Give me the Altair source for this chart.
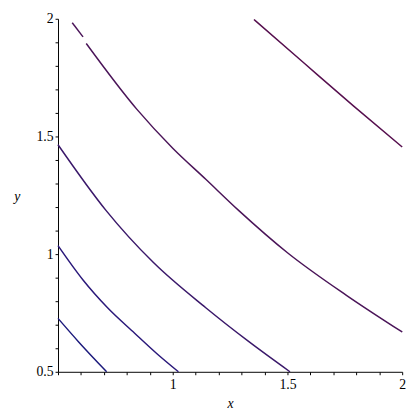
import altair as alt
import pandas as pd

c1_x = [0.500, 0.590, 0.712]
c1_y = [0.727, 0.627, 0.500]
c2_x = [0.500, 0.609, 0.716, 0.834, 0.930, 1.025]
c2_y = [1.036, 0.890, 0.772, 0.664, 0.578, 0.500]
c3_x = [0.500, 0.709, 0.916, 1.144, 1.329, 1.511]
c3_y = [1.465, 1.186, 0.964, 0.772, 0.630, 0.500]
c4a_x = [0.562, 0.609]
c4a_y = [1.983, 1.923]
c4b_x = [0.623, 0.844, 1.000, 1.144, 1.287, 1.500, 1.757, 2.000]
c4b_y = [1.895, 1.615, 1.450, 1.318, 1.186, 1.006, 0.825, 0.669]
c5_x = [1.354, 1.572, 1.786, 2.000]
c5_y = [1.997, 1.812, 1.631, 1.455]

segments = [
    ("c1", c1_x, c1_y),
    ("c2", c2_x, c2_y),
    ("c3", c3_x, c3_y),
    ("c4a", c4a_x, c4a_y),
    ("c4b", c4b_x, c4b_y),
    ("c5", c5_x, c5_y),
]
rows = []
for name, xs, ys in segments:
    for i, (xv, yv) in enumerate(zip(xs, ys)):
        rows.append({"seg": name, "x": xv, "y": yv, "i": i})
df = pd.DataFrame(rows)

seg_names = ["c1", "c2", "c3", "c4a", "c4b", "c5"]
seg_colors = ["#1c1a7c", "#2a187a", "#3a186a", "#4a1458", "#4a1458", "#560f4e"]

ticks = [round(0.5 + 0.1 * k, 1) for k in range(16)]

font = "Liberation Serif"

x_axis = alt.Axis(
    values=ticks,
    labelExpr="(abs(datum.value*2 - round(datum.value*2)) < 0.001 && datum.value > 0.6) ? format(datum.value, '~g') : ''",
    labelPadding=3,
    title="x", titleY=32, titleBaseline="middle",
)
y_axis = alt.Axis(
    values=ticks,
    labelExpr="(abs(datum.value*2 - round(datum.value*2)) < 0.001) ? format(datum.value, '~g') : ''",
    labelPadding=2,
    title="y", titleAngle=0,
    titleX=-42, titleY=181, titleAlign="center", titleBaseline="middle",
)

chart = alt.Chart(df).mark_line(strokeWidth=1.5, interpolate="monotone").encode(
    x=alt.X("x:Q", scale=alt.Scale(domain=[0.5, 2], nice=False, zero=False), axis=x_axis),
    y=alt.Y("y:Q", scale=alt.Scale(domain=[0.5, 2], nice=False, zero=False), axis=y_axis),
    color=alt.Color("seg:N", scale=alt.Scale(domain=seg_names, range=seg_colors), legend=None),
    detail="seg:N",
    order="i:Q",
).properties(
    width=351, height=360,
    autosize=alt.AutoSizeParams(type="none"),
    padding={"left": 51, "top": 7, "right": 10, "bottom": 37},
).configure_view(stroke=None).configure_axis(
    grid=False, domainColor="black", tickColor="black", tickSize=3, tickWidth=1,
    labelFont=font, labelFontSize=14, labelColor="black",
    titleFont=font, titleFontSize=14, titleFontStyle="italic",
    titleFontWeight="normal", titleColor="black",
    labelFlush=False, labelOverlap=False,
)

chart.save("out.html", embed_options={"renderer": "svg", "actions": False})
